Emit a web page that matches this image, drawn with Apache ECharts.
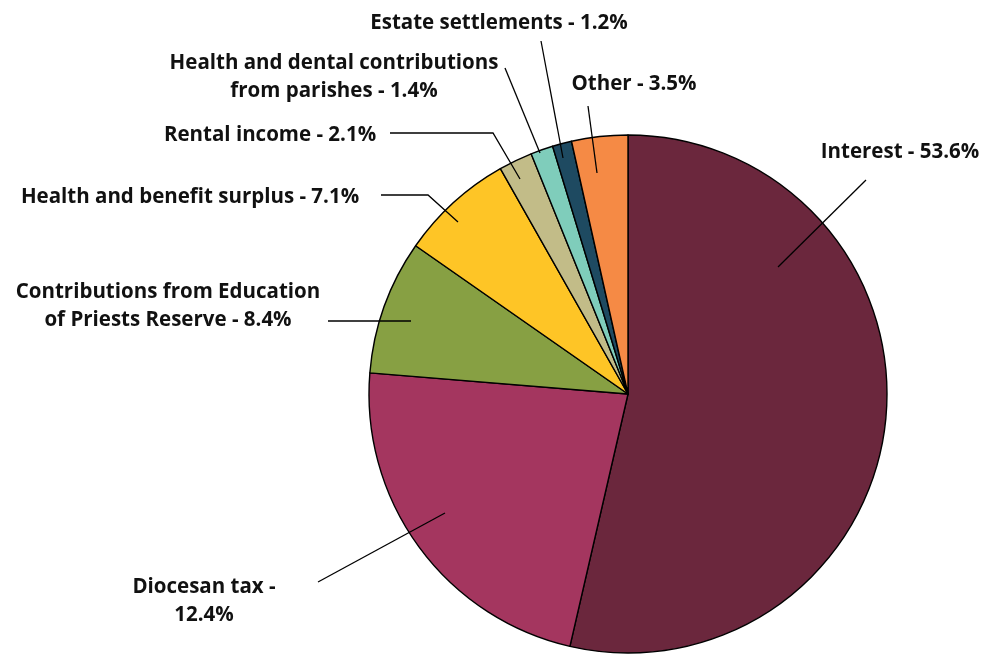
<!DOCTYPE html>
<html>
<head>
<meta charset="utf-8">
<script src="https://cdn.jsdelivr.net/npm/echarts@6/dist/echarts.min.js"></script>
<style>
html,body{margin:0;padding:0;background:#fff;}
#chart{width:981px;height:655px;}
</style>
</head>
<body>
<div id="chart"></div>
<script>
// ---- data ----
const categories = ['Interest', 'Diocesan tax', 'Contributions from Education of Priests Reserve',
  'Health and benefit surplus', 'Rental income', 'Health and dental contributions from parishes',
  'Estate settlements', 'Other'];
// slice sizes as drawn in the picture (percent of the whole)
const sliceValues = [53.6, 22.7, 8.4, 7.1, 2.1, 1.4, 1.2, 3.5];
// percentages printed in the labels
const labelPercents = ['53.6%', '12.4%', '8.4%', '7.1%', '2.1%', '1.4%', '1.2%', '3.5%'];
const labelTexts = [
  'Interest - 53.6%',
  'Diocesan tax -\n12.4%',
  'Contributions from Education\nof Priests Reserve - 8.4%',
  'Health and benefit surplus - 7.1%',
  'Rental income - 2.1%',
  'Health and dental contributions\nfrom parishes - 1.4%',
  'Estate settlements - 1.2%',
  'Other - 3.5%'
];
const colors = ['#6B273D', '#A4365F', '#87A043', '#FEC526', '#C2BC88', '#7FCDBB', '#1E4A61', '#F58A45'];

// ---- annotation layout (label centres and leader lines) ----
const labelPos = [
  [900, 152], [204, 601], [168, 306], [190, 197], [270, 135], [334, 77], [499, 23], [634, 84]
];
const leaderLines = [
  [[778, 267], [866, 180]],
  [[445, 513], [318, 582]],
  [[411, 321], [328, 321]],
  [[458, 222], [428, 195], [381, 195]],
  [[520, 179], [493, 133], [390, 133]],
  [[540, 153], [505, 68]],
  [[563, 158], [541, 41]],
  [[597, 173], [588, 106]]
];

const pieData = categories.map((c, i) => ({name: c, value: sliceValues[i]}));

const chart = echarts.init(document.getElementById('chart'), null, {renderer: 'canvas'});
chart.setOption({
  animation: false,
  backgroundColor: '#ffffff',
  color: colors,
  series: [{
    type: 'pie',
    center: [628, 394],
    radius: 259,
    startAngle: 90,
    clockwise: true,
    silent: true,
    data: pieData,
    itemStyle: {borderColor: '#000', borderWidth: 1.4},
    label: {show: false},
    labelLine: {show: false}
  }, {
    // overlay carrying the labels and leader lines above the slices
    type: 'pie',
    z: 5,
    center: [628, 394],
    radius: 259,
    startAngle: 90,
    clockwise: true,
    silent: true,
    avoidLabelOverlap: false,
    data: pieData,
    itemStyle: {color: 'rgba(0,0,0,0)', borderWidth: 0},
    label: {
      show: true,
      position: 'outside',
      alignTo: 'none',
      formatter: p => labelTexts[p.dataIndex],
      fontFamily: 'Open Sans',
      fontWeight: 'bold',
      fontSize: 20.5,
      lineHeight: 28,
      color: '#111',
      align: 'center'
    },
    labelLine: {show: true, length: 10, length2: 10, smooth: false,
      lineStyle: {color: '#000', width: 1.3}},
    labelLayout: function (params) {
      const i = params.dataIndex;
      return {
        x: labelPos[i][0],
        y: labelPos[i][1],
        align: 'center',
        verticalAlign: 'middle',
        labelLinePoints: leaderLines[i]
      };
    }
  }]
});
</script>
</body>
</html>
